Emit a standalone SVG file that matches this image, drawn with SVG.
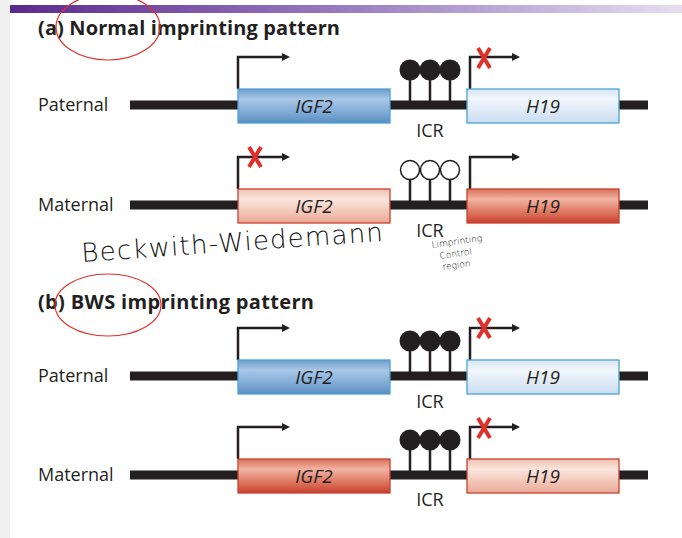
<svg xmlns="http://www.w3.org/2000/svg" width="682" height="538" viewBox="0 0 682 538">
<defs>
<linearGradient id="bar" x1="0" x2="1"><stop offset="0" stop-color="#5a2a8c"/><stop offset="0.5" stop-color="#9a7cc0"/><stop offset="1" stop-color="#e6def0"/></linearGradient>
<linearGradient id="blue" x1="0" y1="0" x2="0" y2="1"><stop offset="0" stop-color="#6d9ccc"/><stop offset="0.3" stop-color="#a9c7e6"/><stop offset="0.7" stop-color="#7ea9d6"/><stop offset="1" stop-color="#5b8cc0"/></linearGradient>
<linearGradient id="lblue" x1="0" y1="0" x2="0" y2="1"><stop offset="0" stop-color="#d8e6f4"/><stop offset="0.3" stop-color="#f2f7fc"/><stop offset="1" stop-color="#c9dcf0"/></linearGradient>
<linearGradient id="red" x1="0" y1="0" x2="0" y2="1"><stop offset="0" stop-color="#d9705a"/><stop offset="0.3" stop-color="#f2b3a2"/><stop offset="0.7" stop-color="#dd735c"/><stop offset="1" stop-color="#c8402e"/></linearGradient>
<linearGradient id="lred" x1="0" y1="0" x2="0" y2="1"><stop offset="0" stop-color="#f0c0b0"/><stop offset="0.3" stop-color="#fbe6de"/><stop offset="1" stop-color="#eba996"/></linearGradient>
<marker id="ah" markerWidth="8" markerHeight="8" refX="1" refY="4" orient="auto" markerUnits="userSpaceOnUse" viewBox="0 0 8 8"><path d="M0,0 L8,4 L0,8z" fill="#231f20"/></marker>
<g id="lolF"><path d="M-20,0 V-26 M0,0 V-26 M20,0 V-26" stroke="#231f20" stroke-width="2.5"/><circle cx="-20" cy="-31" r="10.5" fill="#231f20"/><circle cx="0" cy="-31" r="10.5" fill="#231f20"/><circle cx="20" cy="-31" r="10.5" fill="#231f20"/></g>
<g id="lolO"><path d="M-20,0 V-22 M0,0 V-22 M20,0 V-22" stroke="#231f20" stroke-width="2.5"/><circle cx="-20" cy="-31" r="9.5" fill="#fff" stroke="#231f20" stroke-width="1.5"/><circle cx="0" cy="-31" r="9.5" fill="#fff" stroke="#231f20" stroke-width="1.5"/><circle cx="20" cy="-31" r="9.5" fill="#fff" stroke="#231f20" stroke-width="1.5"/></g>
<g id="xm"><path d="M-6,-10 L6,10 M6,-10 L-6,10" stroke="#e0302a" stroke-width="4"/></g>
</defs>
<style>
.t{font-family:"Open Sans","Liberation Sans",sans-serif;fill:#231f20}
.h{font-size:20px;font-weight:bold}
.lab{font-size:18px}
.g{font-size:19px;font-style:italic;text-anchor:middle}
.icr{font-size:18px;text-anchor:middle}
.dna{stroke:#231f20;stroke-width:9}
.pr{fill:none;stroke:#231f20;stroke-width:2.5}
.bb{stroke:#4aa3d4;stroke-width:1.3}
.rb{stroke:#c8402e;stroke-width:1.3}
.hw{font-family:"DejaVu Sans",sans-serif;fill:#111;font-weight:200}
</style>
<rect width="682" height="538" fill="#fff"/>
<rect x="0" y="0" width="10" height="538" fill="#f0f0f0"/>
<rect x="10" y="5" width="672" height="8" fill="url(#bar)"/>
<text class="t h" x="38" y="35" textLength="302">(a) Normal imprinting pattern</text>
<text class="t h" x="38" y="309" textLength="276">(b) BWS imprinting pattern</text>
<ellipse cx="108" cy="27" rx="52" ry="33" fill="none" stroke="#e0302a" stroke-width="1.2"/>
<ellipse cx="108" cy="305" rx="53" ry="31" fill="none" stroke="#e0302a" stroke-width="1.2"/>
<g id="connectors">
<path class="dna" d="M130,105 H648 M130,205 H648 M130,376 H648 M130,475 H648"/>
<path class="pr" d="M238,89 V57 H283" marker-end="url(#ah)"/>
<path class="pr" d="M470,89 V57 H513" marker-end="url(#ah)"/>
<path class="pr" d="M238,189 V157 H283" marker-end="url(#ah)"/>
<path class="pr" d="M470,189 V157 H513" marker-end="url(#ah)"/>
<path class="pr" d="M238,360 V328 H283" marker-end="url(#ah)"/>
<path class="pr" d="M470,360 V328 H513" marker-end="url(#ah)"/>
<path class="pr" d="M238,459 V427 H283" marker-end="url(#ah)"/>
<path class="pr" d="M470,459 V427 H513" marker-end="url(#ah)"/>
</g>
<g id="row-a-pat">
<text class="t lab" x="38" y="111">Paternal</text>
<rect class="bb" x="238" y="89" width="152" height="34" fill="url(#blue)"/><text class="t g" x="314" y="113">IGF2</text>
<rect class="bb" x="467" y="89" width="152" height="34" fill="url(#lblue)"/><text class="t g" x="543" y="113">H19</text>
<use href="#lolF" x="430" y="101"/><text class="t icr" x="430" y="137">ICR</text>
<use href="#xm" x="484" y="58"/>
</g>
<g id="row-a-mat">
<text class="t lab" x="38" y="211">Maternal</text>
<rect class="rb" x="238" y="189" width="152" height="34" fill="url(#lred)"/><text class="t g" x="314" y="213">IGF2</text>
<rect class="rb" x="467" y="189" width="152" height="34" fill="url(#red)"/><text class="t g" x="543" y="213">H19</text>
<use href="#lolO" x="430" y="201"/><text class="t icr" x="430" y="237">ICR</text>
<use href="#xm" x="255" y="157"/>
</g>
<text class="hw" x="82" y="262" font-size="26" transform="rotate(-4 82 262)" textLength="302">Beckwith-Wiedemann</text>
<text class="hw" font-size="9" x="432" y="248" transform="rotate(-8 432 248)">Limprinting</text>
<text class="hw" font-size="9" x="440" y="259" transform="rotate(-8 440 259)">Control</text>
<text class="hw" font-size="9" x="443" y="270" transform="rotate(-8 443 270)">region</text>
<g id="row-b-pat">
<text class="t lab" x="38" y="382">Paternal</text>
<rect class="bb" x="238" y="360" width="152" height="34" fill="url(#blue)"/><text class="t g" x="314" y="384">IGF2</text>
<rect class="bb" x="467" y="360" width="152" height="34" fill="url(#lblue)"/><text class="t g" x="543" y="384">H19</text>
<use href="#lolF" x="430" y="372"/><text class="t icr" x="430" y="408">ICR</text>
<use href="#xm" x="484" y="328"/>
</g>
<g id="row-b-mat">
<text class="t lab" x="38" y="481">Maternal</text>
<rect class="rb" x="238" y="459" width="152" height="34" fill="url(#red)"/><text class="t g" x="314" y="483">IGF2</text>
<rect class="rb" x="467" y="459" width="152" height="34" fill="url(#lred)"/><text class="t g" x="543" y="483">H19</text>
<use href="#lolF" x="430" y="471"/><text class="t icr" x="430" y="506">ICR</text>
<use href="#xm" x="484" y="428"/>
</g>
</svg>
